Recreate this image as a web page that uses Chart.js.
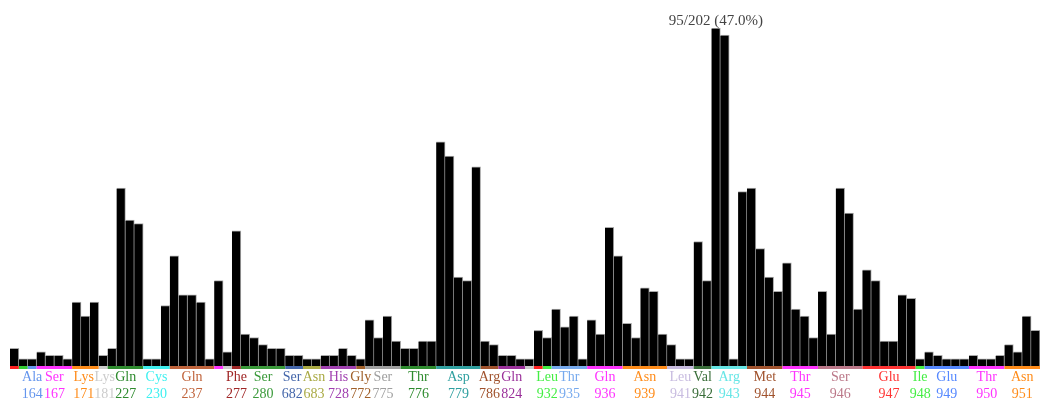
<!DOCTYPE html>
<html>
<head>
<meta charset="utf-8">
<script src="https://cdn.jsdelivr.net/npm/chart.js@4"></script>
<style>
  html, body { margin: 0; padding: 0; background: #fff; }
  #wrap { width: 1040px; height: 400px; }
</style>
</head>
<body>
<div id="wrap"><canvas id="barchart"></canvas></div>
<script>
// residue groups along the x axis (empty name = unlabeled group)
const residues = ["", "", "Ala", "Ser", "Lys", "Lys", "Gln", "Cys", "Gln", "", "", "Phe", "Ser",
  "Ser", "Asn", "His", "Gly", "Ser", "Thr", "Asp", "Arg", "Gln", "", "", "Leu", "Thr", "Gln",
  "Asn", "Leu", "Val", "Arg", "Met", "Thr", "Ser", "Glu", "Ile", "Glu", "Thr", "Asn"];
const positions = ["", "", "164", "167", "171", "181", "227", "230", "237", "", "", "277", "280",
  "682", "683", "728", "772", "775", "776", "779", "786", "824", "", "", "932", "935", "936",
  "939", "941", "942", "943", "944", "945", "946", "947", "948", "949", "950", "951"];
const groupSizes = [1, 1, 1, 4, 3, 1, 4, 3, 5, 1, 1, 1, 5,
  2, 2, 4, 1, 4, 4, 5, 2, 3, 1, 1, 1, 4, 4,
  5, 3, 2, 4, 4, 4, 5, 6, 1, 5, 4, 4];
const groupColors = ["#ff2020", "#33cc33", "#6495ed", "#ff33ff", "#ff8c1a", "#cccccc", "#2e8b2e",
  "#3ff0f0", "#c0643c", "#ff33ff", "#cccccc", "#a02828", "#3a9a3a",
  "#4466aa", "#aaaa44", "#a040b0", "#a0602a", "#a0a0a0", "#2e8b2e", "#30a0a0", "#a0522d",
  "#9a309a", "#cccccc", "#ff2020", "#44ee44", "#77aaee", "#ff33ff",
  "#ff8c1a", "#c8bce0", "#3a6e3a", "#66e6e6", "#a0522d", "#ff33ff", "#bb7788", "#ff3333",
  "#44ee44", "#5588ff", "#ff33ff", "#ff8c1a"];

// one value per bar
const counts = [5, 2, 2, 4, 3, 3, 2, 18, 14, 18, 3, 5, 50, 41, 40, 2, 2, 17, 31, 20,
  20, 18, 2, 24, 4, 38, 9, 8, 6, 5, 5, 3, 3, 2, 2, 3, 3, 5, 3, 2,
  13, 8, 14, 7, 5, 5, 7, 7, 63, 59, 25, 24, 56, 7, 6, 3, 3, 2, 2, 10,
  8, 16, 11, 14, 2, 13, 9, 39, 31, 12, 8, 22, 21, 9, 6, 2, 2, 35, 24, 95,
  93, 2, 49, 50, 33, 25, 21, 29, 16, 14, 8, 21, 9, 50, 43, 16, 27, 24, 7, 7,
  20, 19, 2, 4, 3, 2, 2, 2, 3, 2, 2, 3, 6, 4, 14, 10];
const total = 202;

// per-bar category labels built from the groups
const barLabels = [];
residues.forEach((r, g) => {
  for (let i = 0; i < groupSizes[g]; i++) barLabels.push((r + " " + positions[g]).trim());
});

const FONT = "'Liberation Serif', 'Times New Roman', serif";

const groupLabels = {
  id: "groupLabels",
  afterDatasetsDraw(chart) {
    const { ctx, chartArea } = chart;
    const x = chart.scales.x;
    const step = x.getPixelForValue(1) - x.getPixelForValue(0);
    ctx.save();
    ctx.font = "14px " + FONT;
    ctx.textAlign = "center";

    let start = 0;
    const items = [];
    groupSizes.forEach((n, g) => {
      const left = x.getPixelForValue(start) - step / 2;
      const right = x.getPixelForValue(start + n - 1) + step / 2;
      ctx.strokeStyle = groupColors[g];
      ctx.lineWidth = 3;
      ctx.beginPath();
      ctx.moveTo(left, chartArea.bottom + 1.5);
      ctx.lineTo(right, chartArea.bottom + 1.5);
      ctx.stroke();
      if (residues[g]) {
        const w = Math.max(ctx.measureText(residues[g]).width, ctx.measureText(positions[g]).width);
        items.push({ g, cx: (left + right) / 2, w });
      }
      start += n;
    });

    // push overlapping labels apart
    for (let pass = 0; pass < 30; pass++) {
      for (let i = 0; i < items.length - 1; i++) {
        const a = items[i], b = items[i + 1];
        const over = (a.cx + a.w / 2) - (b.cx - b.w / 2);
        if (over > 0) { a.cx -= over / 2; b.cx += over / 2; }
      }
    }

    items.forEach(it => {
      ctx.fillStyle = groupColors[it.g];
      ctx.fillText(residues[it.g], it.cx, chartArea.bottom + 15);
      ctx.fillText(positions[it.g], it.cx, chartArea.bottom + 32);
    });

    // annotation over the tallest bar
    const max = Math.max(...counts);
    const idx = counts.indexOf(max);
    const y = chart.scales.y;
    ctx.font = "15px " + FONT;
    ctx.fillStyle = "#444";
    ctx.fillText(max + "/" + total + " (" + (max / total * 100).toFixed(1) + "%)",
      x.getPixelForValue(idx), y.getPixelForValue(max) - 3);
    ctx.restore();
  }
};

new Chart(document.getElementById("barchart"), {
  type: "bar",
  data: {
    labels: barLabels,
    datasets: [
      {
        label: "count",
        data: counts,
        backgroundColor: "#000",
        borderColor: "#aaa",
        borderWidth: { top: 1, right: 1, left: 0, bottom: 0 },
        borderSkipped: false,
        barPercentage: 1,
        categoryPercentage: 1,
      },
    ],
  },
  options: {
    responsive: true,
    maintainAspectRatio: false,
    animation: false,
    layout: { padding: { top: 28, bottom: 34, left: 10, right: 0 } },
    plugins: { legend: { display: false }, tooltip: { enabled: false } },
    scales: {
      x: { display: false },
      y: { display: false, min: 0, max: 95 },
    },
  },
  plugins: [groupLabels],
});
</script>
</body>
</html>
